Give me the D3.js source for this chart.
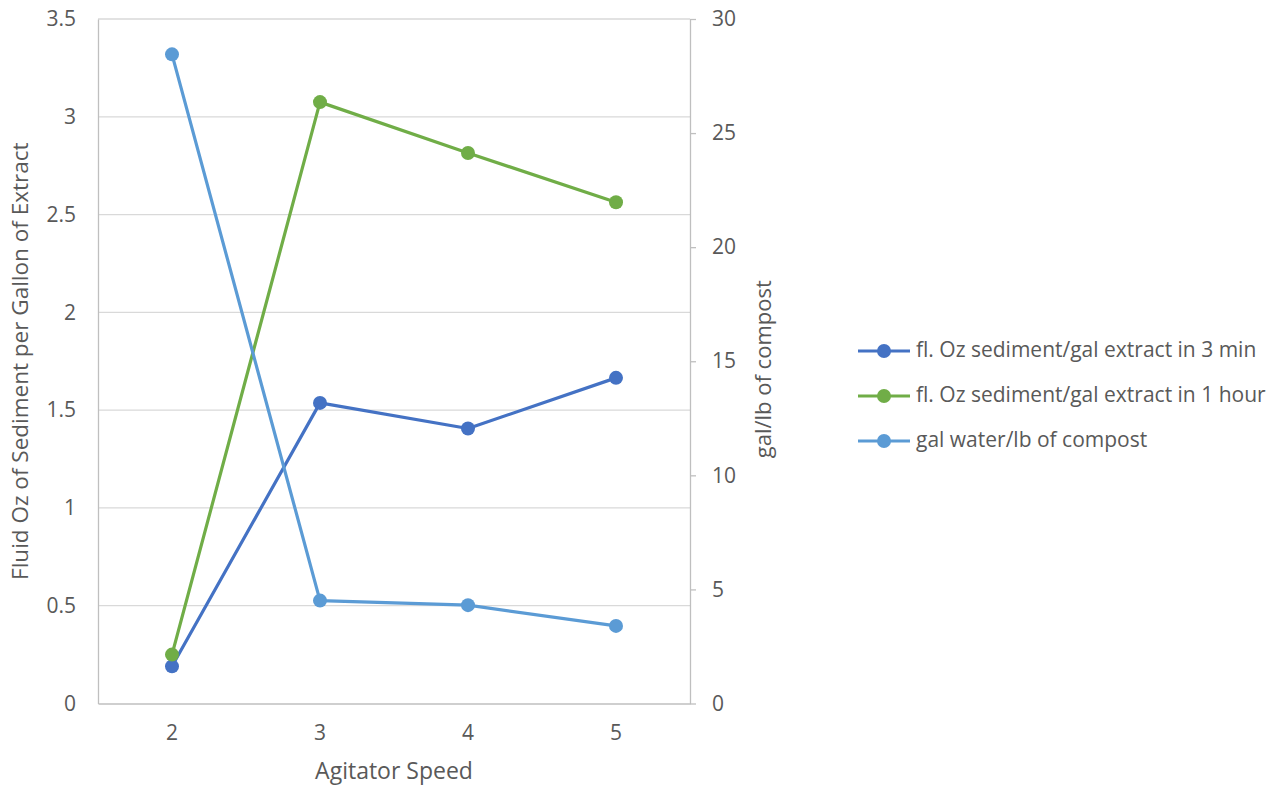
<!DOCTYPE html>
<html><head><meta charset="utf-8">
<script src="https://cdn.jsdelivr.net/npm/d3@7"></script>
<style>
html,body{margin:0;padding:0;background:#fff;}
text{font-family:"Open Sans","Noto Sans",sans-serif;fill:#595959;}
</style></head>
<body><svg id="c" width="1272" height="788"></svg>
<script>
const categories = ["2","3","4","5"];
const sed3min = [0.19, 1.537, 1.406, 1.665];
const sed1hour = [0.25, 3.075, 2.815, 2.563];
const galWater = [28.45, 4.51, 4.31, 3.40];
const leftTicks = [0,0.5,1,1.5,2,2.5,3,3.5];
const rightTicks = [0,5,10,15,20,25,30];
const seriesNames = ["fl. Oz sediment/gal extract in 3 min","fl. Oz sediment/gal extract in 1 hour","gal water/lb of compost"];
const colors = ["#4472C4","#70AD47","#5B9BD5"];

const svg = d3.select("#c");
const L=98, R=690, T=19, B=703.5;
const x = d3.scaleBand().domain(categories).range([L,R]);
const yL = d3.scaleLinear().domain([0,3.5]).range([B,T]);
const yR = d3.scaleLinear().domain([0,30]).range([B,T]);

// gridlines
svg.append("g").selectAll("line").data(leftTicks.filter(d=>d>0)).join("line")
  .attr("x1",L).attr("x2",R).attr("y1",d=>yL(d)).attr("y2",d=>yL(d))
  .attr("stroke","#d9d9d9").attr("stroke-width",1.3);

// left axis
const gl = svg.append("g").attr("transform",`translate(${L},0)`)
  .call(d3.axisLeft(yL).tickValues(leftTicks).tickSize(0).tickPadding(22).tickFormat(d3.format("")));
gl.select(".domain").attr("stroke","#bfbfbf").attr("stroke-width",1.3);
gl.selectAll("text").attr("font-size",21).attr("fill","#595959");

// right axis
const gr = svg.append("g").attr("transform",`translate(${R},0)`)
  .call(d3.axisRight(yR).tickValues(rightTicks).tickSize(6).tickSizeOuter(0).tickPadding(16));
gr.select(".domain").attr("stroke","#bfbfbf").attr("stroke-width",1.3);
gr.selectAll(".tick line").attr("stroke","#bfbfbf").attr("stroke-width",1.3);
gr.selectAll("text").attr("font-size",21).attr("fill","#595959");

// bottom axis
const gb = svg.append("g").attr("transform",`translate(0,${B})`)
  .call(d3.axisBottom(x).tickSize(0).tickPadding(22));
gb.select(".domain").attr("stroke","#bfbfbf").attr("stroke-width",1.3);
gb.selectAll("text").attr("font-size",21).attr("fill","#595959");

// axis titles
svg.append("text").attr("x",(L+R)/2).attr("y",773).attr("text-anchor","middle")
  .attr("dominant-baseline","middle").attr("font-size",23).text("Agitator Speed");
svg.append("text").attr("transform",`translate(22,${(T+B)/2}) rotate(-90)`).attr("text-anchor","middle")
  .attr("dominant-baseline","middle").attr("font-size",22.5).text("Fluid Oz of Sediment per Gallon of Extract");
svg.append("text").attr("transform",`translate(765,${(T+B)/2+8}) rotate(-90)`).attr("text-anchor","middle")
  .attr("dominant-baseline","middle").attr("font-size",22).text("gal/lb of compost");

const cx = d => x(d)+x.bandwidth()/2;
const series = [
  {vals:sed3min, y:yL},
  {vals:sed1hour, y:yL},
  {vals:galWater, y:yR}
];
[0,1,2].forEach(i=>{
  const s = series[i];
  const pts = categories.map((c,j)=>[cx(c), s.y(s.vals[j])]);
  svg.append("path").attr("d",d3.line()(pts)).attr("fill","none")
    .attr("stroke",colors[i]).attr("stroke-width",3.2).attr("stroke-linejoin","round");
  svg.append("g").selectAll("circle").data(pts).join("circle")
    .attr("cx",d=>d[0]).attr("cy",d=>d[1]).attr("r",7).attr("fill",colors[i]);
});

// legend
const lg = svg.append("g");
seriesNames.forEach((n,i)=>{
  const yy = 351 + i*45;
  lg.append("line").attr("x1",858).attr("x2",910).attr("y1",yy).attr("y2",yy)
    .attr("stroke",colors[i]).attr("stroke-width",3.2);
  lg.append("circle").attr("cx",884).attr("cy",yy).attr("r",7).attr("fill",colors[i]);
  lg.append("text").attr("x",916).attr("y",yy).attr("dominant-baseline","middle")
    .attr("font-size",21).text(n);
});
</script></body></html>
